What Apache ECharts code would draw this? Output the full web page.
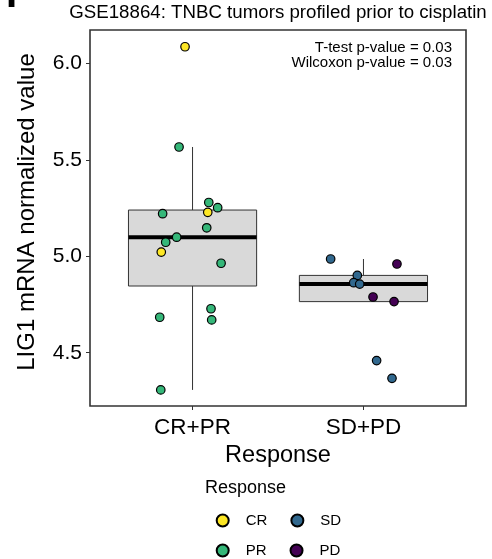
<!DOCTYPE html>
<html>
<head>
<meta charset="utf-8">
<script src="https://cdn.jsdelivr.net/npm/echarts@6/dist/echarts.min.js"></script>
<style>
  html, body { margin: 0; padding: 0; background: #fff; }
  #chart { width: 492px; height: 559px; }
</style>
</head>
<body>
<div id="chart"></div>
<script>
// ---- data ----
const groups = ['CR+PR', 'SD+PD'];
const responses = ['CR', 'PR', 'SD', 'PD'];
const responseGroup = { CR: 1, PR: 1, SD: 2, PD: 2 };
const responseColors = { CR: '#FDE725', PR: '#35B779', SD: '#31688E', PD: '#440154' };

// LIG1 normalized expression per tumour, and horizontal jitter around the group
const crValues = [6.087, 5.228, 5.022];
const crJitter = [-0.044, 0.089, -0.183];
const prValues = [5.567, 5.279, 5.252, 5.221, 5.148, 5.099, 5.073, 4.964, 4.728, 4.684, 4.670, 4.307];
const prJitter = [-0.079, 0.095, 0.147, -0.175, 0.083, -0.093, -0.157, 0.167, 0.108, -0.192, 0.112, -0.186];
const sdValues = [4.986, 4.901, 4.863, 4.856, 4.459, 4.367];
const sdJitter = [-0.192, -0.036, -0.057, -0.022, 0.077, 0.167];
const pdValues = [4.960, 4.789, 4.765];
const pdJitter = [0.196, 0.056, 0.179];

const yTicks = [4.5, 5.0, 5.5, 6.0];
const titleText = 'GSE18864: TNBC tumors profiled prior to cisplatin';
const pValueLines = ['T-test p-value = 0.03', 'Wilcoxon p-value = 0.03'];

const seriesValues = { CR: crValues, PR: prValues, SD: sdValues, PD: pdValues };
const seriesJitter = { CR: crJitter, PR: prJitter, SD: sdJitter, PD: pdJitter };

// ---- box statistics (type-7 quantiles, 1.5 IQR whiskers) ----
function quantile(sorted, p) {
  const h = (sorted.length - 1) * p;
  const lo = Math.floor(h);
  const hi = Math.min(lo + 1, sorted.length - 1);
  return sorted[lo] + (h - lo) * (sorted[hi] - sorted[lo]);
}
function boxStats(values) {
  const s = values.slice().sort((a, b) => a - b);
  const q1 = quantile(s, 0.25), med = quantile(s, 0.5), q3 = quantile(s, 0.75);
  const iqr = q3 - q1;
  const lo = Math.min(...s.filter(v => v >= q1 - 1.5 * iqr));
  const hi = Math.max(...s.filter(v => v <= q3 + 1.5 * iqr));
  return [lo, q1, med, q3, hi];
}
const boxData = groups.map((g, i) => {
  const vals = [];
  responses.forEach(r => { if (responseGroup[r] === i + 1) vals.push(...seriesValues[r]); });
  return [i + 1].concat(boxStats(vals));
});

const FONT = '"Liberation Sans", Arial, Helvetica, sans-serif';
const chart = echarts.init(document.getElementById('chart'), null, { renderer: 'canvas' });

const scatterSeries = responses.map(r => ({
  name: r,
  type: 'scatter',
  z: 5,
  symbol: 'circle',
  symbolSize: 8.5,
  itemStyle: { color: responseColors[r], borderColor: '#000', borderWidth: 1.2, opacity: 1 },
  data: seriesValues[r].map((v, i) => [responseGroup[r] + seriesJitter[r][i], v])
}));

chart.setOption({
  animation: false,
  backgroundColor: '#fff',
  textStyle: { fontFamily: FONT },
  grid: {
    left: 90, right: 26, top: 30, bottom: 153,
    show: true, borderColor: '#333', borderWidth: 1.6, backgroundColor: 'transparent'
  },
  xAxis: {
    type: 'value', min: 0.4, max: 2.6,
    splitLine: { show: false },
    axisLine: { show: false },
    axisTick: { show: true, length: 4, lineStyle: { color: '#333', width: 1 }, customValues: [1, 2] },
    axisLabel: {
      customValues: [1, 2], margin: 10,
      formatter: v => groups[Math.round(v) - 1] || '',
      color: '#000', fontSize: 22.5, fontFamily: FONT
    },
    name: 'Response', nameLocation: 'middle', nameGap: 37,
    nameTextStyle: { color: '#000', fontSize: 23.5, fontFamily: FONT }
  },
  yAxis: {
    type: 'value', min: 4.2236, max: 6.1738,
    splitLine: { show: false },
    axisLine: { show: false },
    axisTick: { show: true, length: 4, lineStyle: { color: '#333', width: 1 }, customValues: yTicks },
    axisLabel: {
      customValues: yTicks, margin: 8,
      formatter: v => v.toFixed(1),
      color: '#000', fontSize: 21, fontFamily: FONT
    },
    name: 'LIG1 mRNA normalized value', nameLocation: 'middle', nameGap: 51,
    nameTextStyle: { color: '#000', fontSize: 24, fontFamily: FONT, padding: [0, 0, 0, 12] }
  },
  legend: {
    data: ['CR', 'SD', 'PR', 'PD'],
    left: 215.7, top: 512, width: 150,
    padding: 0, itemGap: 13,
    icon: 'circle', itemWidth: 12, itemHeight: 12,
    selectedMode: false,
    itemStyle: { borderColor: '#000', borderWidth: 2 },
    textStyle: { color: '#000', fontSize: 15, fontFamily: FONT, lineHeight: 17, padding: [0, 10, 0, 12] }
  },
  graphic: [
    { type: 'text', left: 6, top: -24, style: { text: 'I', font: 'bold 40px ' + FONT, fill: '#000' } },
    { type: 'text', x: 278, y: 12.5, style: { text: titleText, font: '18.7px ' + FONT, fill: '#000', align: 'center', verticalAlign: 'middle' } },
    { type: 'text', x: 452, y: 55.5, style: { text: pValueLines.join('\n'), font: '15px ' + FONT, lineHeight: 14.3, fill: '#000', align: 'right', verticalAlign: 'middle' } },
    { type: 'text', x: 205, y: 488, style: { text: 'Response', font: '18px ' + FONT, fill: '#000', align: 'left', verticalAlign: 'middle' } }
  ],
  series: [
    {
      type: 'custom',
      z: 2,
      data: boxData,
      encode: { x: 0, y: [1, 2, 3, 4, 5] },
      renderItem: (params, api) => {
        const x = api.value(0);
        const lo = api.value(1), q1 = api.value(2), med = api.value(3), q3 = api.value(4), hi = api.value(5);
        const half = 0.375;
        const pLo = api.coord([x, lo]), pHi = api.coord([x, hi]);
        const pQ1 = api.coord([x, q1]), pQ3 = api.coord([x, q3]);
        const left = api.coord([x - half, med]), right = api.coord([x + half, med]);
        return {
          type: 'group',
          children: [
            { type: 'line', shape: { x1: pHi[0], y1: pHi[1], x2: pQ3[0], y2: pQ3[1] }, style: { stroke: '#333', lineWidth: 1 } },
            { type: 'line', shape: { x1: pLo[0], y1: pLo[1], x2: pQ1[0], y2: pQ1[1] }, style: { stroke: '#333', lineWidth: 1 } },
            { type: 'rect', shape: { x: left[0], y: pQ3[1], width: right[0] - left[0], height: pQ1[1] - pQ3[1] },
              style: { fill: '#D9D9D9', stroke: '#333', lineWidth: 1 } },
            { type: 'line', shape: { x1: left[0], y1: left[1], x2: right[0], y2: right[1] }, style: { stroke: '#000', lineWidth: 4 } }
          ]
        };
      }
    }
  ].concat(scatterSeries)
});
</script>
</body>
</html>
